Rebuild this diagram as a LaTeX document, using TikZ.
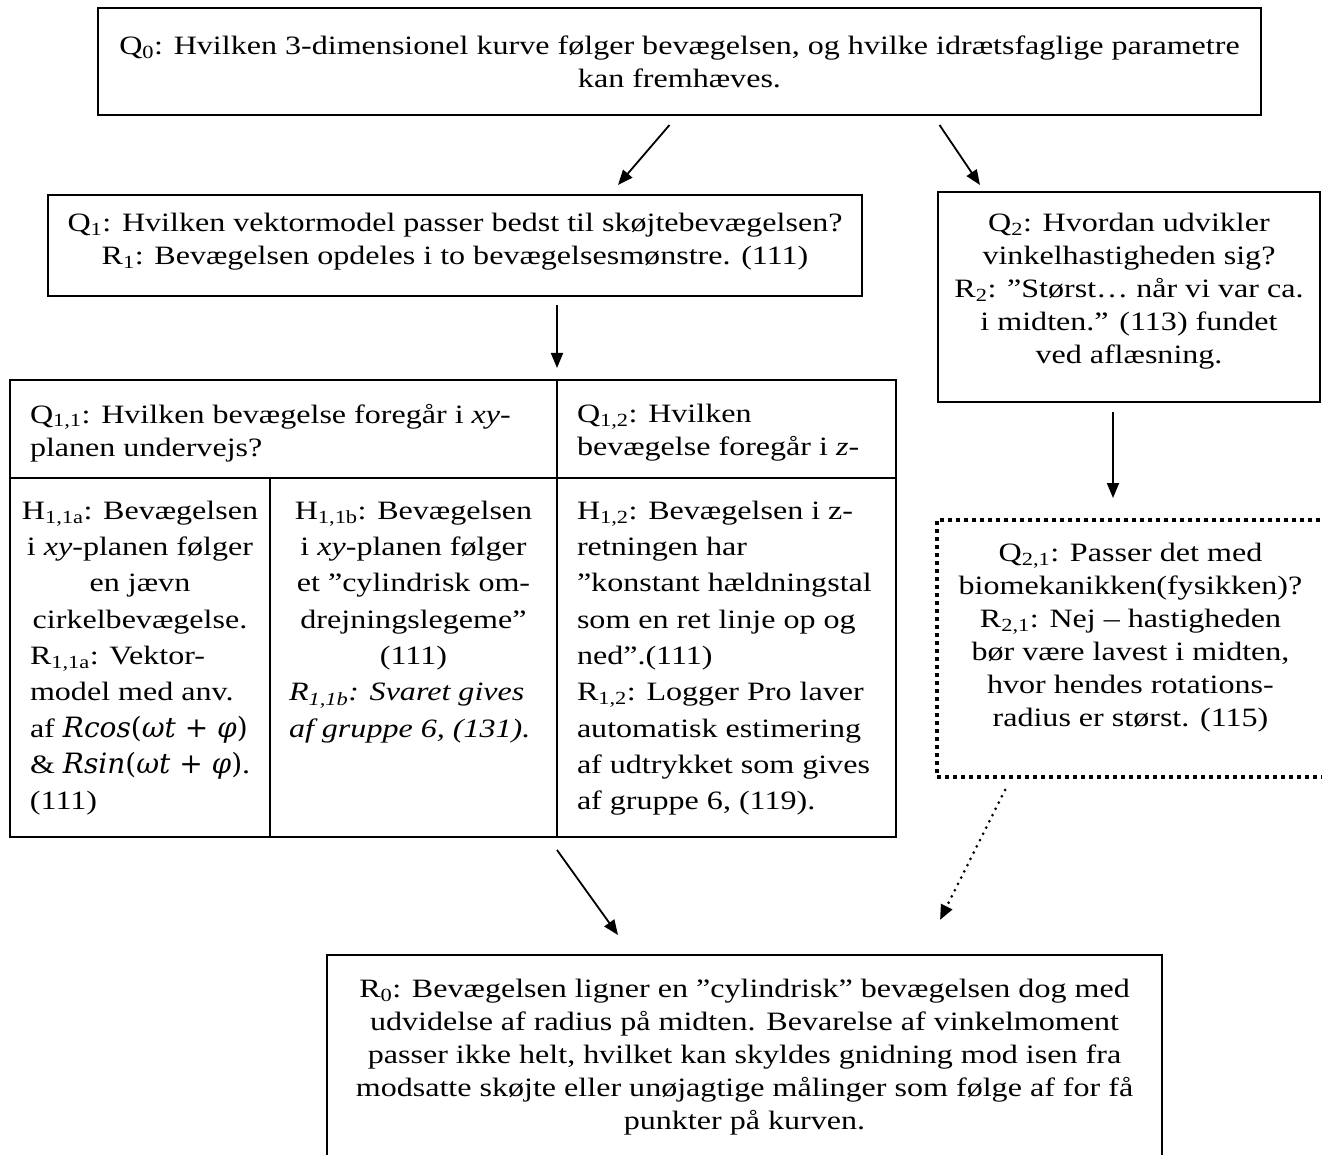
\documentclass[tikz,border=0pt]{standalone}
\usepackage{fontspec}
\setmainfont{Liberation Serif}[FakeStretch=1.21]
\newfontfamily\mathfnt{DejaVu Serif}
\usetikzlibrary{arrows.meta,calc}
\newcommand\bx[4]{\parbox[c][#2pt][t]{#1pt}{\vspace*{#3pt}#4}}
\newcommand\mi[1]{{\mathfnt\fontsize{28}{36.3}\selectfont\itshape #1}}
\newcommand\mr[1]{{\mathfnt\fontsize{28}{36.3}\selectfont #1}}
\begin{document}
\begin{tikzpicture}[x=1pt,y=-1pt,
  font=\fontsize{26.5}{33}\selectfont,
  box/.style={draw, line width=1.6pt, inner sep=0pt, outer sep=0pt, anchor=north west},
  dotbox/.style={draw, line width=3.5pt, dash pattern=on 4pt off 4pt, inner sep=0pt, outer sep=0pt, anchor=north west},
  arr/.style={-{Triangle[length=15pt,width=12pt]}, line width=1.8pt},
  dotarr/.style={-{Triangle[length=15pt,width=12pt]}, line width=3pt, dash pattern=on 0pt off 7pt, line cap=round}]
\useasboundingbox (0,0) rectangle (1322,1155);

\node[box] (q0) at (98,8) {\bx{1163}{107}{28}{\centering
  Q\textsubscript{0}: Hvilken 3-dimensionel kurve følger bevægelsen, og hvilke idrætsfaglige parametre\\
  kan fremhæves.\par}};

\node[box] (q1) at (48,195) {\bx{814}{101}{18}{\centering
  Q\textsubscript{1}: Hvilken vektormodel passer bedst til skøjtebevægelsen?\\
  R\textsubscript{1}: Bevægelsen opdeles i to bevægelsesmønstre. (111)\par}};

\node[box] (q2) at (938,192) {\bx{382}{210}{21}{\centering
  Q\textsubscript{2}: Hvordan udvikler\\
  vinkelhastigheden sig?\\
  R\textsubscript{2}: ”Størst… når vi var ca.\\
  i midten.” (113) fundet\\
  ved aflæsning.\par}};

\node[dotbox] (q21) at (937,520) {\bx{387}{257}{23}{\centering
  Q\textsubscript{2,1}: Passer det med\\
  biomekanikken(fysikken)?\\
  R\textsubscript{2,1}: Nej – hastigheden\\
  bør være lavest i midten,\\
  hvor hendes rotations-\\
  radius er størst. (115)\par}};

% table
\node[box] (c11) at (10,380) {\bx{547}{98}{24}{\raggedright\leftskip=20pt
  Q\textsubscript{1,1}: Hvilken bevægelse foregår i \textit{xy}-\\
  planen undervejs?\par}};
\node[box] (c12) at (557,380) {\bx{339}{98}{24}{\raggedright\leftskip=20pt
  Q\textsubscript{1,2}: Hvilken\\
  bevægelse foregår i \textit{z}-\par}};
\node[box] (h11a) at (10,478) {\bx{260}{359}{23}{\fontsize{26.5}{36.3}\selectfont
  {\centering H\textsubscript{1,1a}: Bevægelsen\\
  i \textit{xy}-planen følger\\
  en jævn\\
  cirkelbevægelse.\par}
  {\raggedright\leftskip=20pt
  R\textsubscript{1,1a}: Vektor-\\
  model med anv.\\
  af \mi{Rcos}\mr{(}\mi{ωt}\mr{ + }\mi{φ}\mr{)}\\
  \& \mi{Rsin}\mr{(}\mi{ωt}\mr{ + }\mi{φ}\mr{)}.\\
  (111)\par}}};
\node[box] (h11b) at (270,478) {\bx{287}{359}{23}{\fontsize{26.5}{36.3}\selectfont
  {\centering H\textsubscript{1,1b}: Bevægelsen\\
  i \textit{xy}-planen følger\\
  et ”cylindrisk om-\\
  drejningslegeme”\\
  (111)\par}
  {\raggedright\leftskip=19pt\itshape
  R\textsubscript{1,1b}: Svaret gives\\
  af gruppe 6, (131).\par}}};
\node[box] (h12) at (557,478) {\bx{339}{359}{23}{\fontsize{26.5}{36.3}\selectfont
  \raggedright\leftskip=20pt
  H\textsubscript{1,2}: Bevægelsen i z-\\
  retningen har\\
  ”konstant hældningstal\\
  som en ret linje op og\\
  ned”.(111)\\
  R\textsubscript{1,2}: Logger Pro laver\\
  automatisk estimering\\
  af udtrykket som gives\\
  af gruppe 6, (119).\par}};

\node[box] (r0) at (327,955) {\bx{835}{210}{24}{\centering
  R\textsubscript{0}: Bevægelsen ligner en ”cylindrisk” bevægelsen dog med\\
  udvidelse af radius på midten. Bevarelse af vinkelmoment\\
  passer ikke helt, hvilket kan skyldes gnidning mod isen fra\\
  modsatte skøjte eller unøjagtige målinger som følge af for få\\
  punkter på kurven.\par}};

\draw[arr] ($(q0.south)+(-10,10)$) -- ($(q1.north)+(163,-10)$);
\draw[arr] ($(q0.south)+(260,10)$) -- ($(q2.north)+(-149,-7)$);
\draw[arr] ($(q1.south)+(102,9)$) -- ($(c11.north east)+(0,-12)$);
\draw[arr] ($(q2.south)+(-16,10)$) -- ($(q21.north)+(-17.5,-22)$);
\draw[dotarr] ($(q21.south)+(-125.5,13)$) -- ($(r0.north)+(195.5,-35)$);
\draw[arr] ($(h11b.south east)+(0,13)$) -- ($(r0.north)+(-126.5,-20)$);
\end{tikzpicture}
\end{document}
